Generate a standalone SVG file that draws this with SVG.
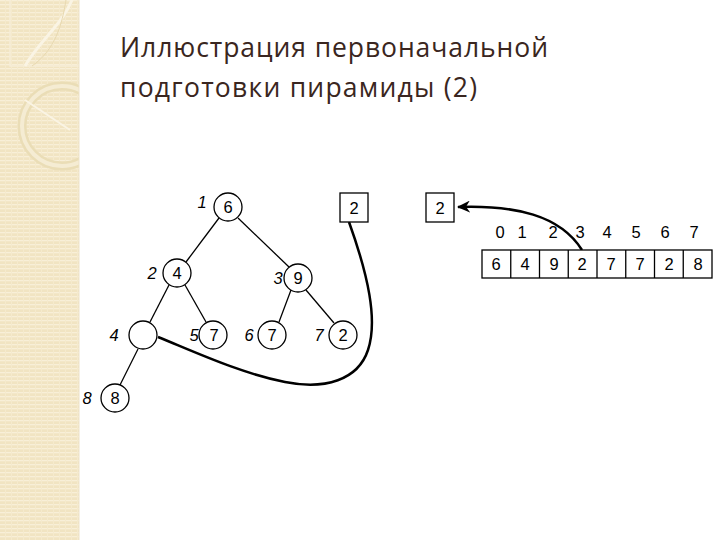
<svg xmlns="http://www.w3.org/2000/svg" width="720" height="540" viewBox="0 0 720 540">
<defs>
<pattern id="stripes" width="6" height="4" patternUnits="userSpaceOnUse">
<rect width="6" height="4" fill="#F1E4C2"/>
<rect y="0" width="6" height="1.3" fill="#F8EFD8"/>
<rect x="5" y="0" width="1" height="4" fill="#F5EACD"/>
</pattern>
<clipPath id="strip"><rect x="0" y="0" width="79" height="540"/></clipPath>
<marker id="arr" markerWidth="14" markerHeight="12" refX="12" refY="6" orient="auto" markerUnits="userSpaceOnUse">
<path d="M0,0 L13,6 L0,12 L4,6 Z" fill="#000"/>
</marker>
</defs>
<style>
.title{font-family:"Open Sans","Noto Sans","DejaVu Sans",sans-serif;font-size:26.5px;fill:#3a2620}
.n{fill:#fff;stroke:#000;stroke-width:1.3}
.v{font-family:"Liberation Sans",Arial,sans-serif;font-size:16.5px;text-anchor:middle;fill:#000}
.i{font-family:"Liberation Sans",Arial,sans-serif;font-size:16.5px;font-style:italic;text-anchor:middle;fill:#000}
.e{stroke:#000;stroke-width:1.3;fill:none}
</style>
<rect width="720" height="540" fill="#fff"/>
<g id="background">
<rect x="0" y="0" width="79" height="540" fill="url(#stripes)"/>
<g clip-path="url(#strip)" fill="none">
<path d="M10,0 V66 H79" stroke="#F6EDD6" stroke-width="1.5"/>
<path d="M25,66 C40,40 62,25 72,0" stroke="#FAF4E4" stroke-width="3"/>
<path d="M32,66 C55,50 62,25 66,0" stroke="#E8D9B0" stroke-width="1"/>
<circle cx="62" cy="126" r="40" stroke="#EADDB6" stroke-width="9"/>
<circle cx="62" cy="126" r="40" stroke="#F5ECD3" stroke-width="4"/>
<path d="M25,100 L70,130" stroke="#FAF4E4" stroke-width="2"/>
</g>
<line x1="79" y1="0" x2="79" y2="540" stroke="#EDE2C8" stroke-width="1"/>
</g>
<g id="title">
<text class="title" x="120" y="57" textLength="428">Иллюстрация первоначальной</text>
<text class="title" x="120" y="97" textLength="357">подготовки пирамиды (2)</text>
</g>
<g id="connectors">
<line class="e" x1="219" y1="218" x2="186" y2="262"/>
<line class="e" x1="238" y1="218" x2="289" y2="267"/>
<line class="e" x1="169" y1="285" x2="150" y2="322"/>
<line class="e" x1="185" y1="285" x2="206" y2="322"/>
<line class="e" x1="291" y1="290" x2="279" y2="322"/>
<line class="e" x1="306" y1="290" x2="334" y2="323"/>
<line class="e" x1="138" y1="349" x2="120" y2="385"/>
<path d="M349,222 C368,275 378,320 368,350 C358,380 325,390 285,382 C240,373 195,352 158,337" fill="none" stroke="#000" stroke-width="2.5"/>
<path d="M582,250 C560,215 515,205 458,207" fill="none" stroke="#000" stroke-width="2.5" marker-end="url(#arr)"/>
</g>
<g id="node1"><circle class="n" cx="228" cy="207" r="14"/><text class="v" x="228" y="213">6</text><text class="i" x="202" y="208">1</text></g>
<g id="node2"><circle class="n" cx="177" cy="273" r="14"/><text class="v" x="177" y="279">4</text><text class="i" x="152" y="279">2</text></g>
<g id="node3"><circle class="n" cx="298" cy="278" r="14"/><text class="v" x="298" y="284">9</text><text class="i" x="278" y="284">3</text></g>
<g id="node4"><circle class="n" cx="143" cy="335" r="14"/><text class="i" x="114" y="341">4</text></g>
<g id="node5"><circle class="n" cx="213" cy="335" r="14"/><text class="v" x="214" y="341">7</text><text class="i" x="194" y="341">5</text></g>
<g id="node6"><circle class="n" cx="272" cy="335" r="14"/><text class="v" x="272" y="341">7</text><text class="i" x="249" y="341">6</text></g>
<g id="node7"><circle class="n" cx="343" cy="335" r="14"/><text class="v" x="343" y="341">2</text><text class="i" x="319" y="341">7</text></g>
<g id="node8"><circle class="n" cx="115" cy="398" r="14"/><text class="v" x="115" y="404">8</text><text class="i" x="87" y="404">8</text></g>
<g id="temp1"><rect class="n" x="340" y="193" width="28" height="29"/><text class="v" x="354" y="214">2</text></g>
<g id="temp2"><rect class="n" x="426" y="193" width="28" height="29"/><text class="v" x="440" y="214">2</text></g>
<g id="array">
<rect class="n" x="482" y="250" width="230" height="28"/>
<g class="e">
<line x1="510.75" y1="250" x2="510.75" y2="278"/>
<line x1="539.5" y1="250" x2="539.5" y2="278"/>
<line x1="568.25" y1="250" x2="568.25" y2="278"/>
<line x1="597" y1="250" x2="597" y2="278"/>
<line x1="625.75" y1="250" x2="625.75" y2="278"/>
<line x1="654.5" y1="250" x2="654.5" y2="278"/>
<line x1="683.25" y1="250" x2="683.25" y2="278"/>
</g>
<text class="v" x="496" y="270">6</text>
<text class="v" x="525" y="270">4</text>
<text class="v" x="554" y="270">9</text>
<text class="v" x="582" y="270">2</text>
<text class="v" x="611" y="270">7</text>
<text class="v" x="640" y="270">7</text>
<text class="v" x="669" y="270">2</text>
<text class="v" x="698" y="270">8</text>
<text class="v" x="500" y="238">0</text>
<text class="v" x="522" y="238">1</text>
<text class="v" x="553" y="238">2</text>
<text class="v" x="580" y="238">3</text>
<text class="v" x="607" y="238">4</text>
<text class="v" x="636" y="238">5</text>
<text class="v" x="665" y="238">6</text>
<text class="v" x="694" y="238">7</text>
</g>
</svg>
